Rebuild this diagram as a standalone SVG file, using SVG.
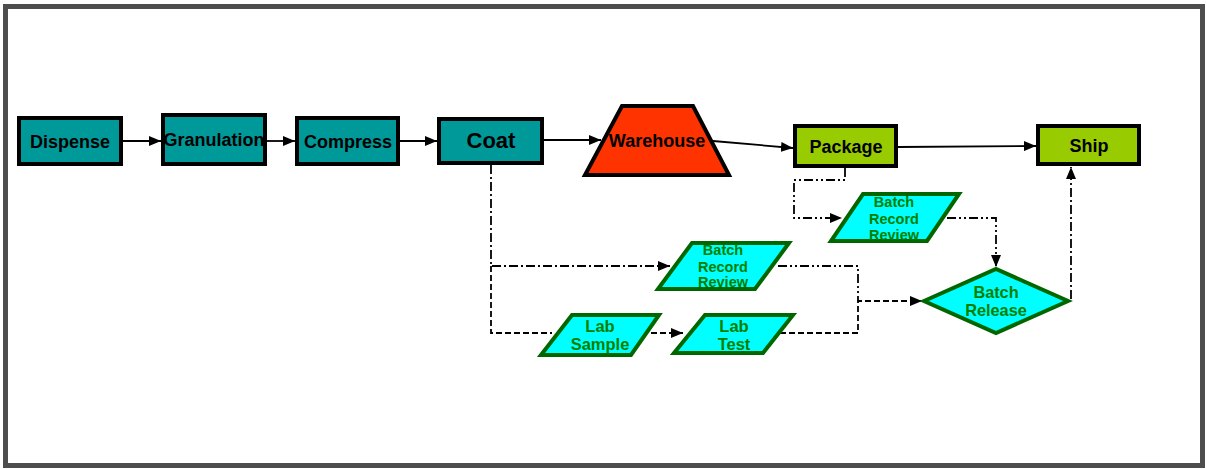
<svg xmlns="http://www.w3.org/2000/svg" width="1207" height="469" viewBox="0 0 1207 469">
  <defs>
    <marker id="arrow" viewBox="0 0 12 10" refX="12" refY="5" markerWidth="12" markerHeight="10" markerUnits="userSpaceOnUse" orient="auto">
      <path d="M0,0 L12,5 L0,10 Z" fill="#000"/>
    </marker>
    <style>
      .step { stroke: #000; stroke-width: 4; }
      .teal { fill: #009999; }
      .lime { fill: #99cc00; }
      .store { fill: #ff3300; stroke: #000; stroke-width: 4; stroke-linejoin: miter; }
      .check { fill: #00ffff; stroke: #006600; stroke-width: 4; stroke-linejoin: miter; }
      .lbl { font-family: "Liberation Sans", Arial, sans-serif; font-weight: bold; font-size: 18px; fill: #000; text-anchor: middle; }
      .glbl { font-family: "Liberation Sans", Arial, sans-serif; font-weight: bold; fill: #008000; text-anchor: middle; }
      .flow { fill: none; stroke: #000; stroke-width: 1.8; }
      .dd { fill: none; stroke: #000; stroke-width: 1.8; stroke-dasharray: 9 3 2 3 2 3; }
      .dt { fill: none; stroke: #000; stroke-width: 1.8; stroke-dasharray: 9 3 2 3; }
      .ds { fill: none; stroke: #000; stroke-width: 1.8; stroke-dasharray: 6 3; }
    </style>
  </defs>

  <!-- outer frame -->
  <rect x="5.5" y="6.5" width="1197" height="459" fill="#fff" stroke="#4d4d4d" stroke-width="5"/>

  <!-- connectors -->
  <g id="connectors">
    <line class="flow" x1="123" y1="141" x2="161" y2="141" marker-end="url(#arrow)"/>
    <line class="flow" x1="267" y1="141" x2="295" y2="141" marker-end="url(#arrow)"/>
    <line class="flow" x1="400" y1="141" x2="437" y2="141" marker-end="url(#arrow)"/>
    <line class="flow" x1="544" y1="140" x2="601" y2="140" marker-end="url(#arrow)"/>
    <line class="flow" x1="713" y1="141" x2="793" y2="148" marker-end="url(#arrow)"/>
    <line class="flow" x1="898" y1="147" x2="1036" y2="146" marker-end="url(#arrow)"/>

    <!-- Coat to review / sampling -->
    <polyline class="dt" points="491,165 491,266 670,266" marker-end="url(#arrow)"/>
    <polyline class="ds" points="491,266 491,333 552,333"/>
    <line class="ds" x1="651" y1="333" x2="683" y2="333" marker-end="url(#arrow)"/>

    <!-- into Batch Release -->
    <polyline class="dd" points="778,266 858,266 858,301"/>
    <polyline class="ds" points="780,333 858,333 858,301 922,301" marker-end="url(#arrow)"/>

    <!-- Package to record review -->
    <polyline class="dd" points="845,168 845,180 794,180 794,218 842,218" marker-end="url(#arrow)"/>
    <polyline class="dd" points="947,218 996,218 996,267" marker-end="url(#arrow)"/>

    <!-- Batch Release to Ship -->
    <line class="dt" x1="1071" y1="299" x2="1071" y2="167" marker-end="url(#arrow)"/>
  </g>

  <g id="dispense">
    <rect class="step teal" x="19" y="118" width="102" height="46"/>
    <text class="lbl" x="70" y="148">Dispense</text>
  </g>
  <g id="granulation">
    <rect class="step teal" x="163" y="115" width="102" height="49"/>
    <text class="lbl" x="214" y="146">Granulation</text>
  </g>
  <g id="compress">
    <rect class="step teal" x="297" y="118" width="101" height="46"/>
    <text class="lbl" x="348" y="148">Compress</text>
  </g>
  <g id="coat">
    <rect class="step teal" x="439" y="119" width="103" height="44"/>
    <text class="lbl" x="491" y="148" style="font-size:22px">Coat</text>
  </g>
  <g id="warehouse">
    <polygon class="store" points="622,106 693,106 729,175 585,175"/>
    <text class="lbl" x="657" y="147">Warehouse</text>
  </g>
  <g id="package">
    <rect class="step lime" x="795" y="126" width="101" height="40"/>
    <text class="lbl" x="846" y="153">Package</text>
  </g>
  <g id="ship">
    <rect class="step lime" x="1038" y="126" width="101" height="38"/>
    <text class="lbl" x="1089" y="152">Ship</text>
  </g>

  <g id="batch-record-review-pkg">
    <polygon class="check" points="863,194 959,194 927,241 831,241"/>
    <text class="glbl" x="894" y="207" font-size="14.5">Batch</text>
    <text class="glbl" x="894" y="223.5" font-size="14.5">Record</text>
    <text class="glbl" x="894" y="240" font-size="14.5">Review</text>
  </g>
  <g id="batch-record-review-coat">
    <polygon class="check" points="692,243 789,243 755,289 658,289"/>
    <text class="glbl" x="723" y="255" font-size="14.5">Batch</text>
    <text class="glbl" x="723" y="271.5" font-size="14.5">Record</text>
    <text class="glbl" x="723" y="287" font-size="14.5">Review</text>
  </g>
  <g id="lab-sample">
    <polygon class="check" points="572,315 659,315 631,355 541,355"/>
    <text class="glbl" x="600" y="332" font-size="16.5">Lab</text>
    <text class="glbl" x="600" y="350" font-size="16.5">Sample</text>
  </g>
  <g id="lab-test">
    <polygon class="check" points="705,315 793,315 763,353 674,353"/>
    <text class="glbl" x="734" y="332" font-size="16.5">Lab</text>
    <text class="glbl" x="734" y="349.5" font-size="16.5">Test</text>
  </g>
  <g id="batch-release">
    <polygon class="check" points="924,301 996,269 1068,301 996,333"/>
    <text class="glbl" x="996" y="298" font-size="16.3">Batch</text>
    <text class="glbl" x="996" y="316" font-size="16.3">Release</text>
  </g>
</svg>
